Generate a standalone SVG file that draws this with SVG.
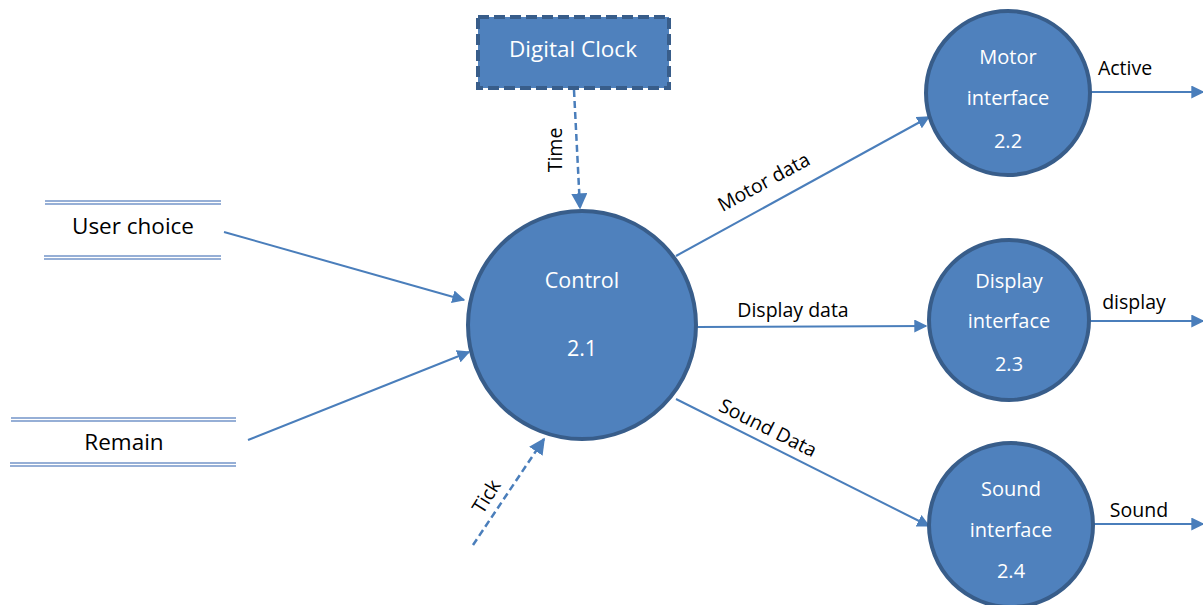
<svg xmlns="http://www.w3.org/2000/svg" width="1203" height="605" viewBox="0 0 1203 605">
<style>
.node{fill:#4F81BD;stroke:#385D8A;stroke-width:4}
.wt{fill:#fff;font-family:"Open Sans","Noto Sans",sans-serif;font-size:20px;text-anchor:middle}
.bt{fill:#000;font-family:"Open Sans","Noto Sans",sans-serif;font-size:19.5px;text-anchor:middle}
.big{font-size:22.5px}
.mid{font-size:21.5px}
.ln{stroke:#4A7EBB;stroke-width:2;fill:none}
.ds{stroke:#4A7EBB;stroke-width:2.5;fill:none;stroke-dasharray:7 4}
.dl{stroke:#7395C8;stroke-width:1.5}
</style>
<defs>
<marker id="ah2" viewBox="0 0 10 10" refX="9" refY="5" markerWidth="6.5" markerHeight="6.5" orient="auto">
<path d="M0,0 L10,5 L0,10 z" fill="#4A7EBB"/>
</marker>
</defs>
<g id="connectors">
<line class="ds" x1="574" y1="90" x2="580" y2="208" marker-end="url(#ah2)"/>
<line class="ln" x1="224" y1="232" x2="464" y2="300" marker-end="url(#ah2)"/>
<line class="ln" x1="248" y1="440" x2="469" y2="352" marker-end="url(#ah2)"/>
<line class="ds" x1="473" y1="545" x2="544" y2="439" marker-end="url(#ah2)"/>
<line class="ln" x1="676" y1="256" x2="929" y2="117" marker-end="url(#ah2)"/>
<line class="ln" x1="697" y1="327" x2="926" y2="326" marker-end="url(#ah2)"/>
<line class="ln" x1="676" y1="399" x2="929" y2="526" marker-end="url(#ah2)"/>
<line class="ln" x1="1090" y1="92" x2="1203" y2="92" marker-end="url(#ah2)"/>
<line class="ln" x1="1090" y1="321" x2="1203" y2="321" marker-end="url(#ah2)"/>
<line class="ln" x1="1093" y1="524" x2="1203" y2="524" marker-end="url(#ah2)"/>
<text class="bt" transform="translate(562,150) rotate(-90)">Time</text>
<text class="bt" transform="translate(492,500) rotate(-58)">Tick</text>
<text class="bt" transform="translate(767,188) rotate(-28.5)">Motor data</text>
<text class="bt" x="793" y="317">Display data</text>
<text class="bt" transform="translate(765,434) rotate(26.5)">Sound Data</text>
<text class="bt" x="1125" y="75">Active</text>
<text class="bt" x="1134" y="309">display</text>
<text class="bt" x="1139" y="517">Sound</text>
</g>
<g id="digital-clock">
<rect class="node" x="478" y="17" width="191" height="71" stroke-dasharray="11 5"/>
<text class="wt big" x="573" y="57">Digital Clock</text>
</g>
<g id="user-choice">
<line class="dl" x1="45" y1="201" x2="221" y2="201"/>
<line class="dl" x1="45" y1="204" x2="221" y2="204"/>
<line class="dl" x1="44" y1="256" x2="221" y2="256"/>
<line class="dl" x1="44" y1="259" x2="221" y2="259"/>
<text class="bt big" x="133" y="234">User choice</text>
</g>
<g id="remain">
<line class="dl" x1="11" y1="418" x2="236" y2="418"/>
<line class="dl" x1="11" y1="421" x2="236" y2="421"/>
<line class="dl" x1="10" y1="463" x2="236" y2="463"/>
<line class="dl" x1="10" y1="466" x2="236" y2="466"/>
<text class="bt big" x="124" y="450">Remain</text>
</g>
<g id="control">
<circle class="node" cx="582" cy="325" r="114"/>
<text class="wt mid" x="582" y="288">Control</text>
<text class="wt mid" x="582" y="356">2.1</text>
</g>
<g id="motor-interface">
<circle class="node" cx="1008" cy="93" r="82"/>
<text class="wt" x="1008" y="64">Motor</text>
<text class="wt" x="1008" y="105">interface</text>
<text class="wt" x="1008" y="148">2.2</text>
</g>
<g id="display-interface">
<circle class="node" cx="1009" cy="320" r="80"/>
<text class="wt" x="1009" y="288">Display</text>
<text class="wt" x="1009" y="328">interface</text>
<text class="wt" x="1009" y="371">2.3</text>
</g>
<g id="sound-interface">
<circle class="node" cx="1011" cy="525" r="82"/>
<text class="wt" x="1011" y="496">Sound</text>
<text class="wt" x="1011" y="537">interface</text>
<text class="wt" x="1011" y="578">2.4</text>
</g>
</svg>
